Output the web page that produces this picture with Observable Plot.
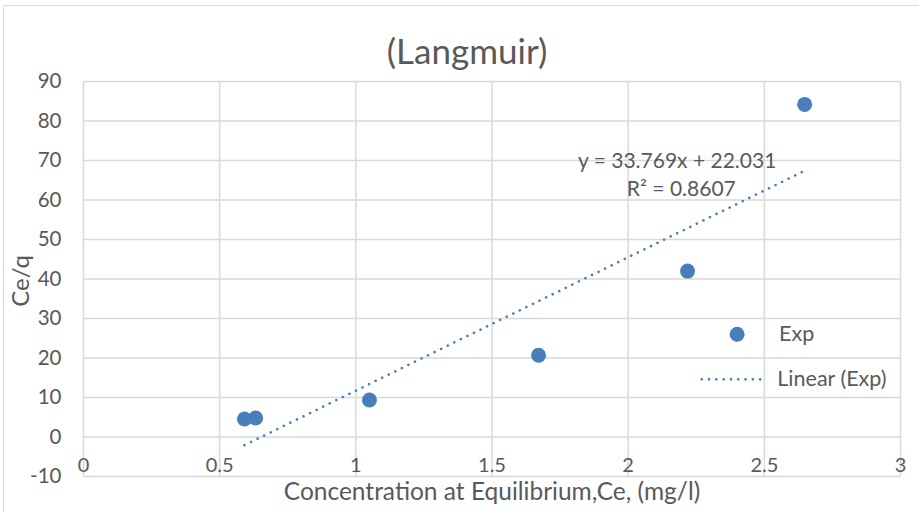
<!DOCTYPE html>
<html>
<head>
<meta charset="utf-8">
<script src="https://cdn.jsdelivr.net/npm/d3@7"></script>
<script src="https://cdn.jsdelivr.net/npm/@observablehq/plot@0.6"></script>
<style>
  html, body { margin: 0; padding: 0; background: #fff; }
  #wrap { position: relative; width: 919px; height: 512px; overflow: hidden; }
  #frame { position: absolute; left: 3px; top: 5px; width: 930px; height: 520px; border: 1.5px solid #d9d9d9; box-sizing: border-box; pointer-events: none; }
</style>
</head>
<body>
<div id="wrap"><div id="frame"></div></div>
<script>
const title = "(Langmuir)";
const xLabel = "Concentration at Equilibrium,Ce, (mg/l)";
const yLabel = "Ce/q";
const ceValues = [0.591, 0.632, 1.05, 1.671, 2.218, 2.648];
const ceqValues = [4.55, 4.8, 9.35, 20.7, 42.0, 84.2];
const xTicks = [0, 0.5, 1, 1.5, 2, 2.5, 3];
const xTickLabels = ["0", "0.5", "1", "1.5", "2", "2.5", "3"];
const yTicks = [-10, 0, 10, 20, 30, 40, 50, 60, 70, 80, 90];
const fitSlope = 33.769;
const fitIntercept = -22.031;
const equationText = "y = 33.769x + 22.031";
const r2Text = "R² = 0.8607";
const legendNames = ["Exp", "Linear (Exp)"];

const blue = "#4a7ebb";
const txt = "#595959";
const font = "Lato, 'Open Sans', sans-serif";

const points = ceValues.map((x, i) => ({x, y: ceqValues[i]}));
const xmin = d3.min(ceValues), xmax = d3.max(ceValues);
const fitLine = [xmin, xmax].map(x => ({x, y: fitSlope * x + fitIntercept}));
const xTickData = xTicks.map((x, i) => ({x, label: xTickLabels[i]}));

const chart = Plot.plot({
  width: 919,
  height: 512,
  marginLeft: 83,
  marginRight: 19,
  marginTop: 81,
  marginBottom: 36,
  style: {fontFamily: font, background: "transparent", overflow: "visible"},
  x: {domain: [0, 3], axis: null},
  y: {domain: [-10, 90], axis: null},
  marks: [
    Plot.gridX(xTicks, {stroke: "#d9d9d9", strokeOpacity: 1, strokeWidth: 1.5}),
    Plot.gridY(yTicks, {stroke: "#d9d9d9", strokeOpacity: 1, strokeWidth: 1.5}),
    Plot.text(yTicks, {x: 0, y: d => d, text: d => String(d), dx: -22, textAnchor: "end", fill: txt, fontSize: 20.5}),
    Plot.text(xTickData, {x: "x", y: -10, text: "label", dy: -11, fill: txt, fontSize: 20}),
    Plot.line(fitLine, {x: "x", y: "y", stroke: blue, strokeWidth: 2.6, strokeDasharray: "0.1 7.2", strokeLinecap: "round"}),
    Plot.dot(points, {x: "x", y: "y", r: 7.5, fill: blue, stroke: null}),
    Plot.text([equationText], {x: 2.18, y: 69.8, text: d => d, fill: txt, fontSize: 21}),
    Plot.text([r2Text], {x: 2.195, y: 62.6, text: d => d, fill: txt, fontSize: 21}),
    // legend
    Plot.dot([legendNames[0]], {x: 2.4, y: 26, r: 7.5, fill: blue, stroke: null}),
    Plot.text([legendNames[0]], {x: 2.4, y: 26, text: d => d, dx: 42, textAnchor: "start", fill: txt, fontSize: 21.5}),
    Plot.line([{x: 2.27, y: 14.6}, {x: 2.5, y: 14.6}], {x: "x", y: "y", stroke: blue, strokeWidth: 2.6, strokeDasharray: "0.1 7.2", strokeLinecap: "round"}),
    Plot.text([legendNames[1]], {x: 2.5, y: 14.6, text: d => d, dx: 13, textAnchor: "start", fill: txt, fontSize: 21.5}),
    // titles
    Plot.text([title], {frameAnchor: "top", text: d => d, dx: -25, dy: -42, fill: txt, fontSize: 35}),
    Plot.text([xLabel], {frameAnchor: "bottom", text: d => d, dy: 23, fill: txt, fontSize: 24.5}),
    Plot.text([yLabel], {frameAnchor: "left", textAnchor: "middle", text: d => d, dx: -62, dy: 2, rotate: -90, fill: txt, fontSize: 24})
  ]
});
chart.style.position = "absolute";
chart.style.left = "0px";
chart.style.top = "0px";
document.getElementById("wrap").appendChild(chart);
</script>
</body>
</html>
